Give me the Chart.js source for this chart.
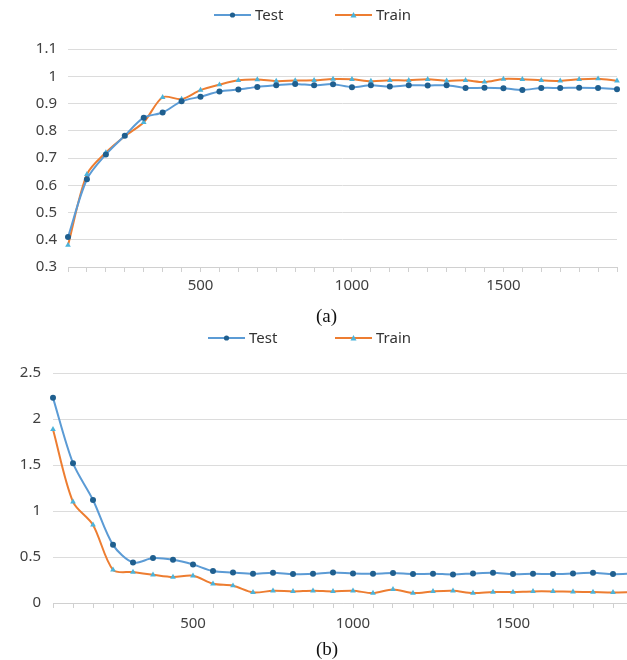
<!DOCTYPE html>
<html>
<head>
<meta charset="utf-8">
<script src="https://cdn.jsdelivr.net/npm/chart.js@4.4.1/dist/chart.umd.min.js"></script>
<style>
  html, body { margin: 0; padding: 0; background: #fff; overflow: hidden; width: 627px; height: 660px; }
  canvas { position: absolute; left: 0; }
  #ca { top: 0; }
  #cb { top: 326px; }
  .cap { position: absolute; left: 316px; font-family: "Liberation Serif", "Times New Roman", serif; font-size: 19px; color: #111; z-index: 2; }
</style>
</head>
<body>
<canvas id="ca" width="627" height="300"></canvas>
<canvas id="cb" width="643" height="314"></canvas>
<div class="cap" style="top:305px">(a)</div>
<div class="cap" style="top:638px">(b)</div>
<script>
// iterations on the category axis (only 500 / 1000 / 1500 get a label)
var steps = [62.5, 125, 187.5, 250, 312.5, 375, 437.5, 500, 562.5, 625, 687.5, 750, 812.5, 875, 937.5,
	1000, 1062.5, 1125, 1187.5, 1250, 1312.5, 1375, 1437.5, 1500, 1562.5, 1625, 1687.5, 1750, 1812.5, 1875];
var seriesNames = ['Test', 'Train'];

// (a) accuracy
var accTest = [0.41, 0.622, 0.713, 0.782, 0.848, 0.867, 0.908, 0.925, 0.944, 0.951, 0.961, 0.967, 0.972, 0.967, 0.971,
	0.960, 0.967, 0.962, 0.967, 0.966, 0.967, 0.957, 0.958, 0.956, 0.950, 0.957, 0.957, 0.958, 0.957, 0.952];
var accTrain = [0.38, 0.64, 0.72, 0.78, 0.831, 0.923, 0.916, 0.949, 0.969, 0.985, 0.988, 0.982, 0.984, 0.985, 0.990,
	0.989, 0.982, 0.985, 0.985, 0.989, 0.983, 0.985, 0.979, 0.990, 0.989, 0.985, 0.983, 0.989, 0.991, 0.983];
var accTicks = [0.3, 1.1, 0.1];

// (b) loss
var lossTest = [2.23, 1.52, 1.12, 0.632, 0.44, 0.488, 0.47, 0.419, 0.347, 0.332, 0.318, 0.329, 0.314, 0.318, 0.332,
	0.321, 0.318, 0.325, 0.314, 0.318, 0.311, 0.321, 0.329, 0.314, 0.318, 0.314, 0.321, 0.329, 0.314, 0.32];
var lossTrain = [1.887, 1.10, 0.849, 0.361, 0.336, 0.307, 0.282, 0.296, 0.209, 0.188, 0.115, 0.133, 0.126, 0.133, 0.126,
	0.133, 0.108, 0.148, 0.108, 0.126, 0.133, 0.108, 0.119, 0.119, 0.126, 0.126, 0.122, 0.119, 0.115, 0.12];
var lossTicks = [0, 2.5, 0.5];

var FONT = 'Noto Sans';
var blue = '#5B9BD5', navy = '#1F5F8F', orange = '#ED7D31', cyan = '#4BB3DA';

// small legend: line sample with marker, then the series name
var lineLegend = {
	id: 'lineLegend',
	afterDraw: function(chart, args, opts) {
		var ctx = chart.ctx;
		ctx.save();
		chart.data.datasets.forEach(function(ds, i) {
			var x = opts.x[i], y = opts.y;
			ctx.strokeStyle = ds.borderColor;
			ctx.lineWidth = 2;
			ctx.beginPath(); ctx.moveTo(x, y); ctx.lineTo(x + 37, y); ctx.stroke();
			ctx.fillStyle = ds.pointBackgroundColor;
			ctx.beginPath();
			if (ds.pointStyle === 'triangle') {
				ctx.moveTo(x + 18.5, y - 3); ctx.lineTo(x + 21.5, y + 2.5); ctx.lineTo(x + 15.5, y + 2.5);
			} else {
				ctx.arc(x + 18.5, y, 2.6, 0, Math.PI * 2);
			}
			ctx.fill();
			ctx.fillStyle = '#333';
			ctx.font = '15px ' + FONT;
			ctx.textBaseline = 'middle';
			ctx.fillText(ds.label, x + 41, y + 1);
		});
		ctx.restore();
	}
};

function makeChart(canvas, test, train, yt, geo) {
	var config = {
		type: 'line',
		data: {
			labels: steps,
			datasets: [{
				label: seriesNames[0],
				data: test,
				borderColor: blue,
				borderWidth: 2,
				pointStyle: 'circle',
				pointRadius: 3,
				pointBackgroundColor: navy,
				pointBorderColor: navy,
				pointBorderWidth: 0,
				tension: 0.3
			}, {
				label: seriesNames[1],
				data: train,
				borderColor: orange,
				borderWidth: 2,
				pointStyle: 'triangle',
				pointRadius: 3.3,
				pointBackgroundColor: cyan,
				pointBorderColor: cyan,
				pointBorderWidth: 0,
				tension: 0.3
			}]
		},
		options: {
			responsive: false,
			animation: false,
			devicePixelRatio: 1,
			layout: { padding: { top: geo.top, right: 10, left: 0, bottom: 0 } },
			plugins: {
				legend: { display: false },
				tooltip: { enabled: false },
				lineLegend: geo.legend
			},
			scales: {
				x: {
					type: 'category',
					offset: false,
					grid: { drawOnChartArea: false, drawTicks: true, tickLength: 5, color: '#d0d0d0' },
					border: { display: true, color: '#d0d0d0' },
					ticks: {
						autoSkip: false, maxRotation: 0, padding: geo.xpad,
						color: '#404040', font: { family: FONT, size: 15 },
						callback: function(v) {
							var l = this.getLabelForValue(v);
							return l % 500 === 0 ? String(l) : '';
						}
					},
					afterFit: function(s) { s.height = geo.xh; }
				},
				y: {
					min: yt[0], max: yt[1],
					grid: { drawTicks: false, color: '#dcdcdc', lineWidth: 1 },
					border: { display: false },
					ticks: {
						stepSize: yt[2], padding: geo.ypad,
						color: '#404040', font: { family: FONT, size: 15 },
						callback: function(v) { return String(Math.round(v * 10) / 10); }
					},
					afterFit: function(s) { s.width = geo.yw; }
				}
			}
		},
		plugins: [lineLegend]
	};
	return new Chart(canvas, config);
}

makeChart(document.getElementById('ca'), accTest, accTrain, accTicks,
	{ top: 49, xh: 33, xpad: 5, yw: 68, ypad: 11, legend: { x: [214, 335], y: 15 } });
makeChart(document.getElementById('cb'), lossTest, lossTrain, lossTicks,
	{ top: 47, xh: 37, xpad: 7, yw: 53, ypad: 12, legend: { x: [208, 335], y: 12 } });
</script>
</body>
</html>
